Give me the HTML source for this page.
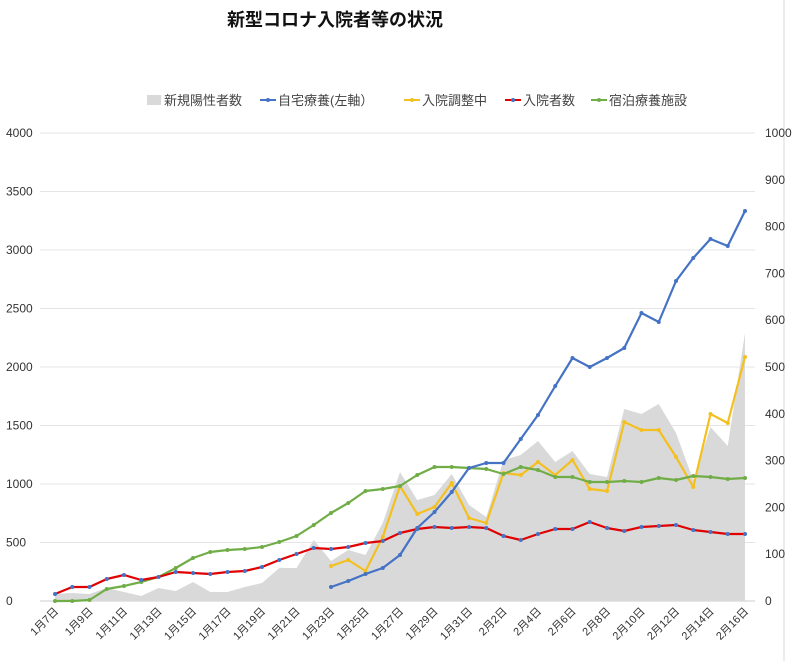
<!DOCTYPE html>
<html><head><meta charset="utf-8"><style>
body{margin:0;background:#fff;}
svg{display:block;font-family:"Liberation Sans","Noto Sans CJK JP",sans-serif;}
</style></head><body>
<svg width="800" height="661" viewBox="0 0 800 661" xmlns="http://www.w3.org/2000/svg">
<rect width="800" height="661" fill="#fff"/>
<line x1="784" y1="0" x2="784" y2="661" stroke="#d8d8d8"/>
<text x="335" y="26" font-size="18" font-weight="bold" text-anchor="middle" fill="#111">新型コロナ入院者等の状況</text>
<g font-size="13" fill="#444">
<rect x="147" y="95" width="14" height="10" fill="#d9d9d9"/><text x="164" y="105">新規陽性者数</text>
<line x1="260" y1="100" x2="276" y2="100" stroke="#4472c4" stroke-width="2"/><circle cx="268" cy="100" r="2" fill="#4472c4"/><text x="278" y="105">自宅療養(左軸）</text>
<line x1="404" y1="100" x2="420" y2="100" stroke="#f4c020" stroke-width="2"/><circle cx="412" cy="100" r="2" fill="#f4c020"/><text x="422" y="105">入院調整中</text>
<line x1="505" y1="100" x2="521" y2="100" stroke="#e00000" stroke-width="2"/><circle cx="513" cy="100" r="2" fill="#4472c4"/><text x="523" y="105">入院者数</text>
<line x1="591" y1="100" x2="607" y2="100" stroke="#70ad47" stroke-width="2"/><circle cx="599" cy="100" r="2" fill="#70ad47"/><text x="609" y="105">宿泊療養施設</text>
</g>
<g id="grid" stroke="#e4e4e4" stroke-width="1"></g>
<g id="ylab" font-size="12" fill="#333"></g>
<g id="series"></g>
<g id="xlab" font-size="11" fill="#333"></g>
</svg>
<script>
const NS="http://www.w3.org/2000/svg";
function el(t,a,p){const e=document.createElementNS(NS,t);for(const k in a)e.setAttribute(k,a[k]);document.getElementById(p).appendChild(e);return e;}
const X=i=>55+17.25*i;
for(let k=0;k<=8;k++){const y=601-58.5*k;el('line',{x1:40,x2:755,y1:y,y2:y,stroke:k==0?'#ccc':'#e4e4e4'},'grid');
const t=el('text',{x:6,y:y+4},'ylab');t.textContent=k*500;}
for(let k=0;k<=10;k++){const y=601-46.8*k;const t=el('text',{x:765,y:y+4},'ylab');t.textContent=k*100;}
const gray=[594,593,594,588,592,596,588,591,582,592,592,587,583,568,568,540,561,550,555,523,472,500,495,474,505,517,460,455,441,462,451,474,477,409,414,404,433,480,427,446,333];
let d='M'+X(0)+',601';gray.forEach((y,i)=>d+=' L'+X(i)+','+y);d+=' L'+X(40)+',601 Z';
el('path',{d:d,fill:'#d9d9d9'},'series');
function line(arr,start,col,mk){let p='';arr.forEach((y,i)=>p+=(i?' L':'M')+X(i+start)+','+y);
el('path',{d:p,fill:'none',stroke:col,'stroke-width':2.2,'stroke-linejoin':'round'},'series');
arr.forEach((y,i)=>el('circle',{cx:X(i+start),cy:y,r:2,fill:mk},'series'));}
const green=[601,601,600,589,586,582,577,568,558,552,550,549,547,542,536,525,513,503,491,489,486,475,467,467,468,469,474,467,470,477,477,482,482,481,482,478,480,476,477,479,478];
const red=[594,587,587,579,575,580,577,572,573,574,572,571,567,560,554,548,549,547,543,541,533,529,527,528,527,528,536,540,534,529,529,522,528,531,527,526,525,530,532,534,534];
const yel=[566,560,571,537,486,514,507,483,518,523,473,475,462,475,460,489,491,422,430,430,457,487,414,423,357];
const blue=[587,581,574,568,555,528,512,492,468,463,463,439,415,386,358,367,358,348,313,322,281,258,239,246,211];
line(yel,16,'#f4c020','#f4c020');
line(green,0,'#70ad47','#70ad47');
line(red,0,'#e00000','#4472c4');
line(blue,16,'#4472c4','#4472c4');
for(let i=0;i<=40;i+=2){const d=new Date(2021,0,7+i);const s=(d.getMonth()+1)+'月'+d.getDate()+'日';
const x=X(i)+4,y=612;const t=el('text',{x:x,y:y,'text-anchor':'end',transform:`rotate(-45 ${x} ${y})`},'xlab');t.textContent=s;}
</script>
</body></html>
